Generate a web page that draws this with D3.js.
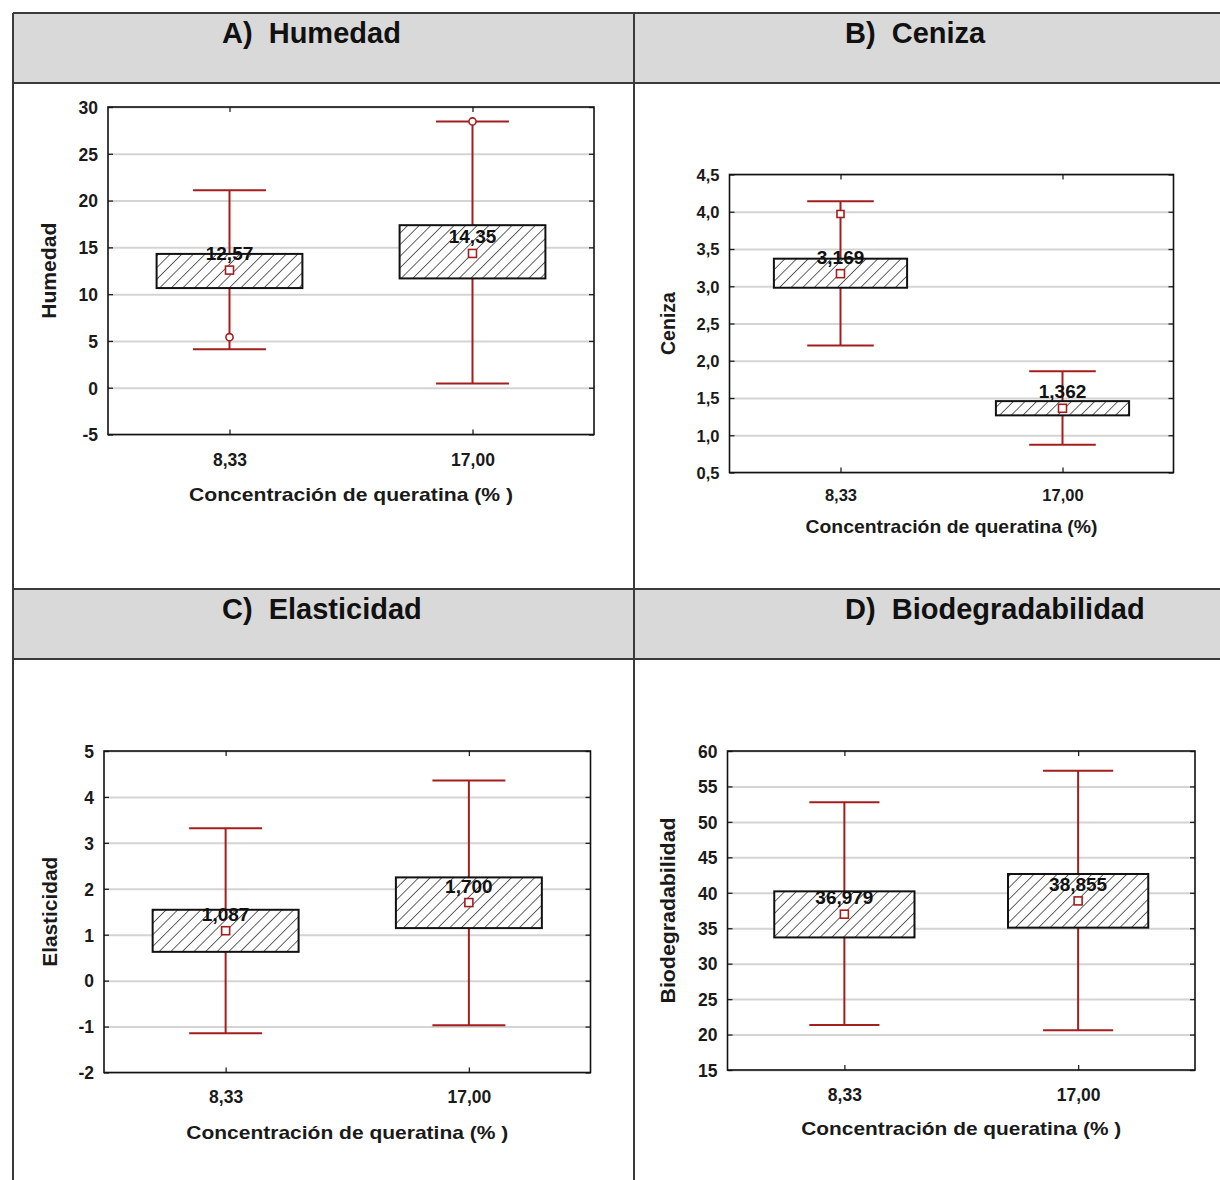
<!DOCTYPE html>
<html>
<head>
<meta charset="utf-8">
<script src="https://cdn.jsdelivr.net/npm/d3@7"></script>
<style>
  html, body { margin: 0; padding: 0; background: #fff; }
  svg { display: block; font-family: "Liberation Sans", Arial, sans-serif; }
  .hdr { font-size: 29px; font-weight: bold; fill: #111; white-space: pre; }
  .tick text { font-weight: bold; fill: #1a1a1a; }
</style>
</head>
<body>
<svg id="chart" width="1220" height="1180"></svg>
<script>
// ---- data -------------------------------------------------------------
const categories = ["8,33", "17,00"];

// A) Humedad
const humedadMean      = [12.57, 14.35];
const humedadBoxLow    = [10.65, 11.68];
const humedadBoxHigh   = [14.30, 17.37];
const humedadWhiskLow  = [4.10, 0.45];
const humedadWhiskHigh = [21.10, 28.45];
const humedadOutliers  = [[0, 5.40], [1, 28.45]];
const humedadTicks     = [-5, 0, 5, 10, 15, 20, 25, 30];

// B) Ceniza
const cenizaMean      = [3.169, 1.362];
const cenizaBoxLow    = [2.98, 1.267];
const cenizaBoxHigh   = [3.37, 1.458];
const cenizaWhiskLow  = [2.205, 0.873];
const cenizaWhiskHigh = [4.14, 1.86];
const cenizaOutliers  = [[0, 3.97]];
const cenizaTicks     = [0.5, 1.0, 1.5, 2.0, 2.5, 3.0, 3.5, 4.0, 4.5];

// C) Elasticidad
const elastMean      = [1.087, 1.700];
const elastBoxLow    = [0.627, 1.144];
const elastBoxHigh   = [1.543, 2.248];
const elastWhiskLow  = [-1.144, -0.97];
const elastWhiskHigh = [3.316, 4.36];
const elastTicks     = [-2, -1, 0, 1, 2, 3, 4, 5];

// D) Biodegradabilidad
const biodegMean      = [36.979, 38.855];
const biodegBoxLow    = [33.70, 35.08];
const biodegBoxHigh   = [40.20, 42.65];
const biodegWhiskLow  = [21.35, 20.60];
const biodegWhiskHigh = [52.76, 57.20];
const biodegTicks     = [15, 20, 25, 30, 35, 40, 45, 50, 55, 60];

const headers = ["A)  Humedad", "B)  Ceniza", "C)  Elasticidad", "D)  Biodegradabilidad"];
const yTitles = ["Humedad", "Ceniza", "Elasticidad", "Biodegradabilidad"];
const xTitles = ["Concentración de queratina (% )", "Concentración de queratina (%)",
                 "Concentración de queratina (% )", "Concentración de queratina (% )"];

// ---- helpers ------------------------------------------------------------
const commaLocale = d3.formatLocale({ decimal: ",", thousands: ".", grouping: [3], currency: ["", ""], minus: "-" });
const fmtInt = commaLocale.format("d");
const fmt1 = commaLocale.format(".1f");
const fmt2 = commaLocale.format(".2f");
const fmt3 = commaLocale.format(".3f");

const RED = "#a41e1e";
const svg = d3.select("#chart");

// hatch fill for the boxes
const HATCH = 8.2;
const defs = svg.append("defs");
defs.append("pattern")
  .attr("id", "hatch")
  .attr("patternUnits", "userSpaceOnUse")
  .attr("width", HATCH).attr("height", HATCH)
  .attr("patternTransform", "rotate(45)")
  .call(p => {
    p.append("rect").attr("width", HATCH).attr("height", HATCH).attr("fill", "#fff");
    p.append("line").attr("x1", 0).attr("y1", 0).attr("x2", 0).attr("y2", HATCH)
      .attr("stroke", "#111").attr("stroke-width", 1.3);
  });

// ---- table frame ----------------------------------------------------------
const frame = svg.append("g");
frame.append("rect").attr("x", 13).attr("y", 13).attr("width", 1240).attr("height", 70).attr("fill", "#d9d9d9");
frame.append("rect").attr("x", 13).attr("y", 589).attr("width", 1240).attr("height", 70).attr("fill", "#d9d9d9");
[13, 83, 589, 659].forEach(y =>
  frame.append("line").attr("x1", 13).attr("x2", 1240).attr("y1", y).attr("y2", y)
    .attr("stroke", "#3a3a3a").attr("stroke-width", 2));
[13, 634].forEach(x =>
  frame.append("line").attr("x1", x).attr("x2", x).attr("y1", 13).attr("y2", 1200)
    .attr("stroke", "#3a3a3a").attr("stroke-width", 2));

const headerPos = [[222, 43], [845, 43], [222, 619], [845, 619]];
headers.forEach((h, i) => {
  frame.append("text").attr("class", "hdr")
    .attr("x", headerPos[i][0]).attr("y", headerPos[i][1]).text(h);
});

// ---- panels -------------------------------------------------------------
const panels = [
  { mean: humedadMean, lo: humedadBoxLow, hi: humedadBoxHigh, wlo: humedadWhiskLow, whi: humedadWhiskHigh,
    out: humedadOutliers, outShape: "circle", ticks: humedadTicks, fmtTick: fmtInt, fmtMean: fmt2,
    x0: 108, x1: 594, y0: 107, y1: 434.5, yTitleX: 56, yTitleLen: 96,
    xLabY: 466, xTitleY: 501, xTitleLen: 324, tickFont: 17.5 },
  { mean: cenizaMean, lo: cenizaBoxLow, hi: cenizaBoxHigh, wlo: cenizaWhiskLow, whi: cenizaWhiskHigh,
    out: cenizaOutliers, outShape: "square", ticks: cenizaTicks, fmtTick: fmt1, fmtMean: fmt3,
    x0: 729.5, x1: 1173.5, y0: 174.5, y1: 472.5, yTitleX: 675, yTitleLen: 63,
    xLabY: 501, xTitleY: 533, xTitleLen: 292, tickFont: 16.5 },
  { mean: elastMean, lo: elastBoxLow, hi: elastBoxHigh, wlo: elastWhiskLow, whi: elastWhiskHigh,
    out: [], outShape: "circle", ticks: elastTicks, fmtTick: fmtInt, fmtMean: fmt3,
    x0: 104, x1: 590.5, y0: 751, y1: 1072.5, yTitleX: 57, yTitleLen: 110,
    xLabY: 1103, xTitleY: 1139, xTitleLen: 322, tickFont: 17.5 },
  { mean: biodegMean, lo: biodegBoxLow, hi: biodegBoxHigh, wlo: biodegWhiskLow, whi: biodegWhiskHigh,
    out: [], outShape: "circle", ticks: biodegTicks, fmtTick: fmtInt, fmtMean: fmt3,
    x0: 727.5, x1: 1195, y0: 751, y1: 1070, yTitleX: 675, yTitleLen: 186,
    xLabY: 1101, xTitleY: 1135, xTitleLen: 320, tickFont: 17.5 }
];

panels.forEach((p, pi) => {
  const w = p.x1 - p.x0, h = p.y1 - p.y0;
  const g = svg.append("g").attr("transform", `translate(${p.x0},${p.y0})`);
  const y = d3.scaleLinear().domain(d3.extent(p.ticks)).range([h, 0]);
  const x = d3.scalePoint().domain(categories).range([0, w]).padding(0.5);
  const step = x.step();

  // horizontal gridlines
  g.append("g")
    .call(d3.axisLeft(y).tickValues(p.ticks).tickSize(-w).tickFormat(""))
    .call(a => a.select(".domain").remove())
    .call(a => a.selectAll("line").attr("stroke", "#d4d4d4").attr("stroke-width", 2));

  // inner tick marks on all four sides
  g.append("g").call(d3.axisLeft(y).tickValues(p.ticks).tickSize(-5).tickFormat(""))
    .call(a => a.select(".domain").remove())
    .call(a => a.selectAll("line").attr("stroke", "#222").attr("stroke-width", 1.3));
  g.append("g").attr("transform", `translate(${w},0)`)
    .call(d3.axisRight(y).tickValues(p.ticks).tickSize(-5).tickFormat(""))
    .call(a => a.select(".domain").remove())
    .call(a => a.selectAll("line").attr("stroke", "#222").attr("stroke-width", 1.3));
  g.append("g").attr("transform", `translate(0,${h})`)
    .call(d3.axisBottom(x).tickSize(-5).tickFormat(""))
    .call(a => a.select(".domain").remove())
    .call(a => a.selectAll("line").attr("stroke", "#222").attr("stroke-width", 1.3));
  g.append("g")
    .call(d3.axisTop(x).tickSize(-5).tickFormat(""))
    .call(a => a.select(".domain").remove())
    .call(a => a.selectAll("line").attr("stroke", "#222").attr("stroke-width", 1.3));

  // tick labels
  g.append("g")
    .call(d3.axisLeft(y).tickValues(p.ticks).tickSize(0).tickPadding(10).tickFormat(p.fmtTick))
    .call(a => a.select(".domain").remove())
    .call(a => a.selectAll("text").attr("font-size", p.tickFont).attr("dy", "0.36em"));
  g.append("g").attr("transform", `translate(0,${p.xLabY - p.y0})`)
    .call(d3.axisBottom(x).tickSize(0).tickPadding(0))
    .call(a => a.select(".domain").remove())
    .call(a => a.selectAll("text").attr("font-size", p.tickFont).attr("dy", 0).attr("y", 0));

  // axis titles
  svg.append("text")
    .attr("transform", `translate(${p.yTitleX},${p.y0 + h / 2}) rotate(-90)`)
    .attr("text-anchor", "middle").attr("font-size", 20).attr("font-weight", "bold").attr("fill", "#1a1a1a")
    .attr("textLength", p.yTitleLen).attr("lengthAdjust", "spacingAndGlyphs")
    .text(yTitles[pi]);
  svg.append("text")
    .attr("x", p.x0 + w / 2).attr("y", p.xTitleY)
    .attr("text-anchor", "middle").attr("font-size", 19).attr("font-weight", "bold").attr("fill", "#1a1a1a")
    .attr("textLength", p.xTitleLen).attr("lengthAdjust", "spacingAndGlyphs")
    .text(xTitles[pi]);

  // whiskers
  const idx = d3.range(categories.length);
  const bw = step * 0.6, cw = step * 0.3;
  const wg = g.append("g").attr("stroke", RED).attr("stroke-width", 2).attr("fill", "none");
  wg.selectAll("line.stem").data(idx).join("line").attr("class", "stem")
    .attr("x1", i => x(categories[i])).attr("x2", i => x(categories[i]))
    .attr("y1", i => y(p.wlo[i])).attr("y2", i => y(p.whi[i]));
  wg.selectAll("line.capHi").data(idx).join("line").attr("class", "capHi")
    .attr("x1", i => x(categories[i]) - cw / 2).attr("x2", i => x(categories[i]) + cw / 2)
    .attr("y1", i => y(p.whi[i])).attr("y2", i => y(p.whi[i]));
  wg.selectAll("line.capLo").data(idx).join("line").attr("class", "capLo")
    .attr("x1", i => x(categories[i]) - cw / 2).attr("x2", i => x(categories[i]) + cw / 2)
    .attr("y1", i => y(p.wlo[i])).attr("y2", i => y(p.wlo[i]));

  // hatched boxes
  g.selectAll("rect.box").data(idx).join("rect").attr("class", "box")
    .attr("x", i => x(categories[i]) - bw / 2).attr("width", bw)
    .attr("y", i => y(p.hi[i])).attr("height", i => y(p.lo[i]) - y(p.hi[i]))
    .attr("fill", "url(#hatch)").attr("stroke", "#111").attr("stroke-width", 2);

  // outlying points
  p.out.forEach(([ci, v]) => {
    if (p.outShape === "circle") {
      g.append("circle").attr("cx", x(categories[ci])).attr("cy", y(v)).attr("r", 3.6)
        .attr("fill", "#fff").attr("stroke", RED).attr("stroke-width", 1.6);
    } else {
      g.append("rect").attr("x", x(categories[ci]) - 3.5).attr("y", y(v) - 3.5)
        .attr("width", 7).attr("height", 7)
        .attr("fill", "#fff").attr("stroke", RED).attr("stroke-width", 1.6);
    }
  });

  // mean markers and labels
  g.selectAll("rect.mean").data(idx).join("rect").attr("class", "mean")
    .attr("x", i => x(categories[i]) - 4).attr("y", i => y(p.mean[i]) - 4)
    .attr("width", 8).attr("height", 8)
    .attr("fill", "#fff").attr("stroke", RED).attr("stroke-width", 1.6);
  g.selectAll("text.meanLab").data(idx).join("text").attr("class", "meanLab")
    .attr("x", i => x(categories[i])).attr("y", i => y(p.mean[i]) - 10)
    .attr("text-anchor", "middle").attr("font-size", 19).attr("font-weight", "bold").attr("fill", "#111")
    .text(i => p.fmtMean(p.mean[i]));

  // plot frame
  g.append("rect").attr("width", w).attr("height", h)
    .attr("fill", "none").attr("stroke", "#111").attr("stroke-width", 1.6);
});
</script>
</body>
</html>
